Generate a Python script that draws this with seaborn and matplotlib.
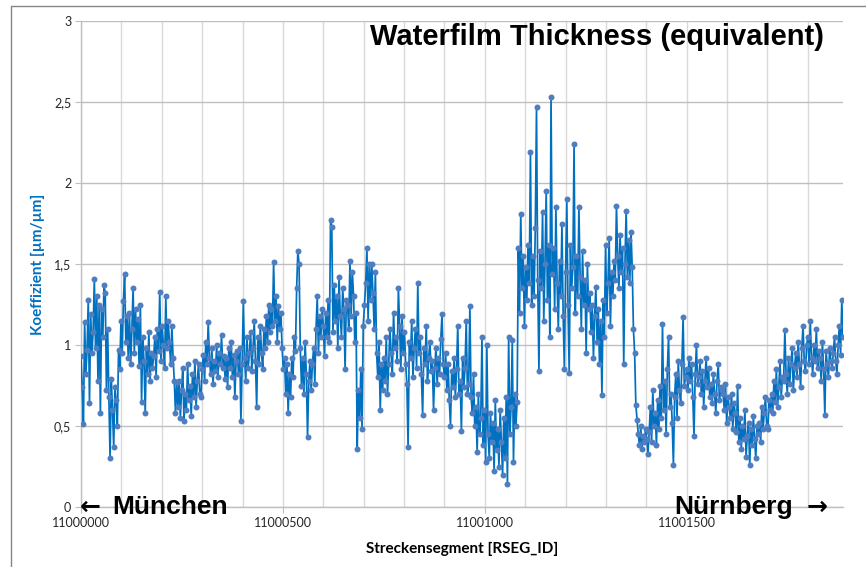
import numpy as np
import pandas as pd
import matplotlib
matplotlib.use("Agg")
import matplotlib.pyplot as plt
from matplotlib.lines import Line2D
from matplotlib.ticker import FixedLocator, MultipleLocator
import seaborn as sns

rseg_start = 11000000
rseg_step = 3

# Koeffizient, je Zeile 30 Segmente (10 Werte)
werte_a = [
    0.93, 0.74, 0.51, 1.14, 0.82, 0.97, 1.28, 0.64, 1.19, 0.95,
    1.08, 1.41, 0.98, 1.30, 0.78, 1.25, 0.58, 1.22, 1.05, 1.37,
    1.32, 0.72, 1.10, 0.68, 0.30, 0.79, 0.60, 0.37, 0.74, 0.66,
    0.50, 0.97, 0.85, 1.15, 0.95, 1.27, 1.44, 1.02, 1.18, 0.92,
    1.20, 0.88, 1.10, 1.35, 0.95, 1.22, 1.02, 1.16, 0.87, 1.25,
    0.65, 1.05, 0.90, 0.58, 0.98, 0.82, 1.08, 0.78, 0.95, 0.86,
    0.93, 1.05, 0.80, 1.10, 0.96, 1.33, 0.90, 1.12, 1.00, 0.86,
    1.30, 0.98, 1.15, 1.02, 0.88, 1.12, 0.92, 0.78, 0.58, 0.77,
    0.62, 0.78, 0.55, 0.72, 0.86, 0.53, 0.70, 0.60, 0.88, 0.66,
    0.75, 0.56, 0.82, 0.68, 0.90, 0.62, 0.78, 0.88, 0.70, 0.68,
    0.85, 0.94, 0.78, 1.02, 0.88, 1.14, 0.92, 0.82, 0.98, 0.76,
    0.90, 0.84, 1.00, 0.80, 0.95, 0.88, 1.06, 0.86, 0.93, 0.79,
    0.92, 0.74, 0.98, 0.86, 1.02, 0.80, 0.94, 0.68, 0.90, 0.96,
    0.82, 0.98, 0.53, 0.88, 1.27, 0.92, 0.78, 1.05, 0.86, 0.95,
    1.08, 0.84, 0.98, 1.15, 0.90, 0.62, 1.05, 0.88, 1.12, 0.95,
    0.85, 1.10, 0.98, 1.18, 1.02, 1.25, 1.08, 1.22, 1.12, 1.51,
]
werte_b = [
    1.15, 1.30, 1.02, 1.24, 1.10, 1.20, 0.98, 0.85, 0.92, 0.70,
    0.88, 0.58, 0.82, 0.68, 0.92, 0.80, 1.05, 0.96, 1.35, 1.58,
    1.50, 0.98, 0.75, 0.92, 0.70, 1.02, 0.82, 0.43, 0.78, 0.90,
    0.72, 0.88, 0.98, 0.76, 1.10, 1.30, 0.95, 1.18, 1.05, 1.22,
    1.12, 0.93, 1.20, 1.05, 1.28, 1.02, 1.77, 1.73, 1.08, 1.37,
    1.15, 1.30, 0.98, 1.42, 1.18, 1.05, 1.35, 1.22, 0.85, 1.28,
    1.25, 1.10, 1.52, 1.18, 1.45, 1.30, 1.02, 1.20, 0.36, 0.72,
    0.55, 0.85, 0.48, 1.12, 1.25, 1.38, 1.60, 1.15, 1.50, 1.28,
    1.50, 1.32, 1.10, 1.45, 0.95, 0.80, 1.02, 0.60, 0.88, 0.72,
    0.92, 0.78, 1.05, 0.70, 0.88, 1.10, 0.95, 0.82, 1.20, 0.98,
    1.05, 0.90, 1.35, 1.12, 0.85, 1.18, 0.95, 1.08, 0.88, 0.76,
    0.37, 1.02, 0.92, 1.15, 0.80, 0.98, 1.10, 0.86, 1.38, 0.95,
    1.05, 0.82, 0.57, 0.98, 0.88, 1.12, 0.78, 0.92, 1.02, 0.84,
    0.90, 0.60, 0.86, 0.98, 0.76, 0.92, 0.82, 1.04, 1.19, 0.88,
    0.80, 0.95, 0.72, 0.88, 0.66, 0.50, 0.84, 0.74, 0.92, 0.68,
    0.85, 1.12, 0.70, 0.78, 0.47, 0.92, 0.74, 0.86, 1.15, 0.70,
]
werte_c = [
    0.76, 1.24, 0.68, 0.58, 0.82, 0.50, 0.62, 0.34, 0.70, 0.45,
    0.55, 1.05, 0.38, 0.60, 0.28, 1.00, 0.45, 0.30, 0.58, 0.40,
    0.52, 0.22, 0.66, 0.35, 0.48, 0.25, 0.60, 0.40, 0.20, 0.55,
    0.30, 0.68, 0.14, 1.05, 0.45, 0.62, 1.03, 0.28, 0.70, 0.50,
    0.65, 1.60, 1.20, 1.81, 1.35, 1.55, 1.12, 1.48, 1.28, 1.62,
    1.38, 2.19, 1.25, 1.55, 1.30, 1.72, 2.47, 1.40, 0.84, 1.58,
    1.35, 1.82, 1.15, 1.50, 1.95, 1.28, 1.62, 1.05, 2.53, 1.44,
    1.60, 1.22, 1.85, 1.38, 1.10, 1.52, 1.30, 1.75, 1.18, 0.85,
    1.45, 1.90, 1.25, 0.83, 1.62, 1.35, 1.48, 2.24, 1.20, 1.55,
    1.30, 1.85, 1.42, 1.10, 1.58, 1.25, 1.40, 0.95, 1.50, 1.22,
    1.32, 1.08, 1.25, 0.92, 1.18, 1.36, 1.02, 1.22, 0.88, 1.15,
    0.69, 1.28, 1.05, 1.62, 1.20, 1.38, 1.66, 1.12, 1.45, 1.30,
    1.52, 1.40, 1.86, 1.55, 1.35, 1.68, 1.45, 1.60, 0.88, 1.50,
    1.83, 1.42, 1.65, 1.38, 1.70, 1.48, 1.10, 0.95, 0.63, 0.54,
    0.45, 0.38, 0.50, 0.36, 0.44, 0.40, 0.48, 0.42, 0.33, 0.46,
    0.62, 0.40, 0.72, 0.50, 0.58, 0.38, 0.66, 0.48, 0.75, 0.55,
]
werte_d = [
    1.13, 0.60, 0.78, 0.45, 0.85, 1.05, 0.62, 0.70, 0.52, 0.26,
    0.68, 0.82, 0.55, 0.90, 0.72, 0.64, 0.88, 1.17, 0.75, 0.80,
    0.85, 0.72, 0.92, 0.78, 0.88, 0.68, 0.44, 0.82, 1.00, 0.76,
    0.80, 0.90, 0.70, 0.84, 0.62, 0.78, 0.92, 0.74, 0.86, 0.68,
    0.76, 0.64, 0.82, 0.70, 0.58, 0.78, 0.88, 0.66, 0.74, 0.72,
    0.70, 0.60, 0.76, 0.52, 0.68, 0.62, 0.55, 0.70, 0.48, 0.64,
    0.58, 0.46, 0.75, 0.40, 0.55, 0.36, 0.50, 0.42, 0.60, 0.31,
    0.44, 0.52, 0.26, 0.48, 0.38, 0.56, 0.42, 0.30, 0.50, 0.45,
    0.52, 0.40, 0.62, 0.48, 0.58, 0.68, 0.50, 0.48, 0.66, 0.60,
    0.70, 0.58, 0.78, 0.65, 0.85, 0.62, 0.74, 0.90, 0.68, 0.80,
    0.78, 1.09, 0.82, 0.70, 0.92, 0.76, 0.88, 0.98, 0.72, 0.86,
    0.95, 0.80, 1.02, 0.88, 0.74, 0.98, 1.12, 0.90, 0.84, 1.00,
    1.05, 0.88, 1.15, 0.92, 0.82, 1.00, 0.90, 1.10, 0.86, 0.96,
    0.92, 0.78, 1.02, 0.85, 0.57, 0.96, 0.88, 0.80, 0.98, 0.90,
    0.86, 0.95, 1.05, 0.90, 0.82, 1.00, 1.12, 0.94, 1.28, 1.05,
]

x_ticks = [11000000, 11000500, 11001000, 11001500]
y_ticks = [0, 0.5, 1, 1.5, 2, 2.5, 3]
y_labels = ["0", "0,5", "1", "1,5", "2", "2,5", "3"]

koeff = werte_a + werte_b + werte_c + werte_d
rseg = rseg_start + rseg_step * np.arange(len(koeff))
df = pd.DataFrame({"rseg": rseg, "koeff": koeff})

sns.set_style("white")
plt.rcParams["font.family"] = ["Lato", "DejaVu Sans"]
plt.rcParams["text.color"] = "black"
plt.rcParams["axes.labelcolor"] = "black"

W, H = 866, 567
fig = plt.figure(figsize=(W / 100, H / 100), dpi=100)
ax = fig.add_axes([81 / W, 1 - 507 / H, (843 - 81) / W, (507 - 21) / H])

sns.lineplot(data=df, x="rseg", y="koeff", ax=ax, color="#0070C0", lw=1.25,
             marker="o", markersize=4.3, markerfacecolor="#4F7EC0",
             markeredgecolor="#4F7EC0", markeredgewidth=0, zorder=3)

ax.set_xlim(rseg_start, rseg[-1])
ax.set_ylim(0, 3)
ax.xaxis.set_major_locator(FixedLocator(x_ticks))
ax.xaxis.set_minor_locator(MultipleLocator(100))
ax.set_xticklabels([str(t) for t in x_ticks])
ax.set_yticks(y_ticks)
ax.set_yticklabels(y_labels)
ax.grid(which="both", axis="x", color="#D9D9D9", lw=1)
ax.grid(which="major", axis="y", color="#BFBFBF", lw=1)
ax.set_axisbelow(True)
for s in ["top", "right"]:
    ax.spines[s].set_visible(False)
for s in ["left", "bottom"]:
    ax.spines[s].set_color("#BFBFBF")
    ax.spines[s].set_linewidth(1)
ax.tick_params(axis="y", length=4, color="#BFBFBF", labelsize=9, pad=3,
               left=True, labelcolor="#262626")
ax.tick_params(axis="x", which="major", length=4, color="#BFBFBF", labelsize=9,
               pad=3, bottom=True, labelcolor="#262626")
ax.tick_params(axis="x", which="minor", length=0)

ax.set_xlabel("Streckensegment [RSEG_ID]", fontsize=11, fontweight="bold", va="center")
ax.xaxis.set_label_coords(0.5, (507 - 549) / 486)
ax.set_ylabel("Koeffizient [µm/µm]", fontsize=11, fontweight="bold", color="#0070C0", va="center")
ax.yaxis.set_label_coords((38 - 81) / 762, 0.5)

arial = ["Liberation Sans", "DejaVu Sans"]
pfeil = ["DejaVu Sans"]
base_y = (507 - 514) / 486
ax.text((824 - 81) / 762, (507 - 45) / 486, "Waterfilm Thickness (equivalent)",
        transform=ax.transAxes, ha="right", va="baseline", fontsize=21,
        fontweight="bold", family=arial, zorder=5)
ax.text((80 - 81) / 762, base_y, "\u2190", transform=ax.transAxes,
        ha="left", va="baseline", fontsize=18, fontweight="bold", family=pfeil,
        clip_on=False, zorder=5)
ax.text((112 - 81) / 762, base_y, "München", transform=ax.transAxes,
        ha="left", va="baseline", fontsize=19, fontweight="bold", family=arial,
        clip_on=False, zorder=5)
ax.text((793 - 81) / 762, base_y, "Nürnberg", transform=ax.transAxes,
        ha="right", va="baseline", fontsize=19, fontweight="bold", family=arial,
        clip_on=False, zorder=5)
ax.text((828 - 81) / 762, base_y, "\u2192", transform=ax.transAxes,
        ha="right", va="baseline", fontsize=18, fontweight="bold", family=pfeil,
        clip_on=False, zorder=5)

# Rahmen des Diagrammbereichs
fig.add_artist(Line2D([11 / W, 1], [1 - 6 / H, 1 - 6 / H], transform=fig.transFigure,
                      color="#868686", lw=1))
fig.add_artist(Line2D([11 / W, 11 / W], [0, 1 - 6 / H], transform=fig.transFigure,
                      color="#868686", lw=1))

fig.savefig("out.png", dpi=100)
